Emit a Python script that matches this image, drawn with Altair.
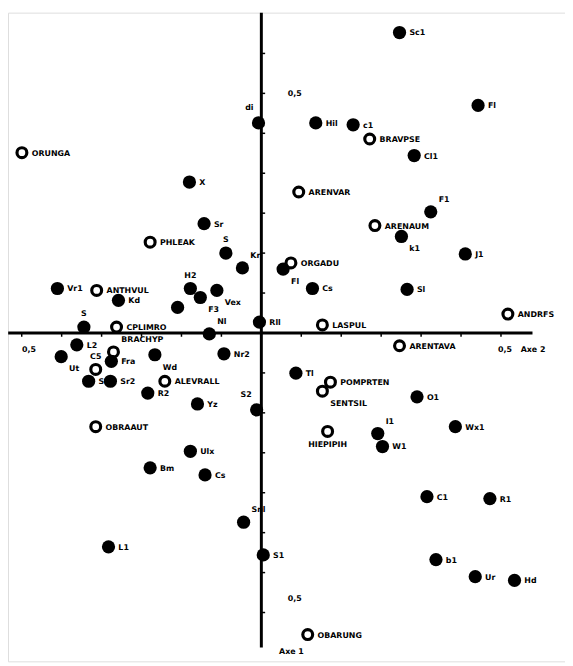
import altair as alt
import pandas as pd
import numpy as np

# ---- data (axis units, origin at the cross) ----
labels = ["Sc1", "Fl", "Hil", "c1", "BRAVPSE", "Cl1", "di", "ORUNGA", "X", "ARENVAR",
          "F1", "ARENAUM", "k1", "Sr", "PHLEAK", "S", "Kr", "ORGADU", "Fl", "Cs",
          "Sl", "J1", "ANDRFS", "LASPUL", "ARENTAVA", "Rll", "Vr1", "ANTHVUL", "Kd", "H2",
          "Vex", "F3", "Sin", "Nl", "CPLIMRO", "S", "L2", "Ut", "BRACHYP", "Fra",
          "Wd", "Nr2", "C5", "Sd", "Sr2", "ALEVRALL", "R2", "Yz", "S2", "Tl",
          "POMPRTEN", "SENTSIL", "O1", "OBRAAUT", "HIEPIPIH", "I1", "W1", "Wx1", "Ulx", "Bm",
          "Cs", "C1", "R1", "Snl", "L1", "S1", "b1", "Ur", "Hd", "OBARUNG"]
axe2 = [0.292, 0.458, 0.115, 0.194, 0.229, 0.323, -0.006, -0.506, -0.152, 0.079,
        0.358, 0.240, 0.296, -0.121, -0.235, -0.075, -0.040, 0.0625, 0.046, 0.108,
        0.308, 0.431, 0.521, 0.129, 0.292, -0.004, -0.431, -0.348, -0.302, -0.150,
        -0.094, -0.129, -0.177, -0.110, -0.306, -0.375, -0.390, -0.423, -0.3125, -0.317,
        -0.225, -0.079, -0.350, -0.365, -0.319, -0.204, -0.240, -0.135, -0.010, 0.073,
        0.146, 0.129, 0.329, -0.350, 0.140, 0.246, 0.256, 0.410, -0.150, -0.235,
        -0.119, 0.350, 0.483, -0.0375, -0.323, 0.004, 0.369, 0.452, 0.535, 0.098]
axe1 = [0.635, 0.481, 0.444, 0.440, 0.410, 0.375, 0.444, 0.381, 0.319, 0.298,
        0.256, 0.227, 0.204, 0.231, 0.192, 0.169, 0.1375, 0.148, 0.135, 0.094,
        0.092, 0.167, 0.040, 0.017, -0.027, 0.023, 0.094, 0.090, 0.069, 0.094,
        0.090, 0.075, 0.054, -0.002, 0.0125, 0.0125, -0.025, -0.050, -0.040, -0.060,
        -0.046, -0.044, -0.077, -0.102, -0.102, -0.102, -0.127, -0.150, -0.1625, -0.085,
        -0.104, -0.123, -0.135, -0.198, -0.208, -0.2125, -0.240, -0.198, -0.250, -0.285,
        -0.300, -0.346, -0.350, -0.400, -0.452, -0.469, -0.479, -0.515, -0.523, -0.6375]
kind = ["F", "F", "F", "F", "O", "F", "F", "O", "F", "O",
        "F", "O", "F", "F", "O", "F", "F", "O", "F", "F",
        "F", "F", "O", "O", "O", "F", "F", "O", "F", "F",
        "F", "F", "F", "F", "O", "F", "F", "F", "O", "F",
        "F", "F", "O", "F", "F", "O", "F", "F", "F", "F",
        "O", "O", "F", "O", "O", "F", "F", "F", "F", "F",
        "F", "F", "F", "F", "F", "F", "F", "F", "F", "O"]
labelpos = ["r", "r", "r", "r", "r", "r", "al", "r", "r", "r",
            "ar", "r", "br", "r", "r", "a", "ar", "r", "br", "r",
            "r", "r", "r", "r", "r", "r", "r", "r", "r", "a",
            "br", "br", "n", "ar", "r", "a", "r", "br", "ar", "r",
            "br", "r", "a", "r", "r", "r", "r", "r", "al", "r",
            "r", "br", "r", "r", "b", "ar", "r", "r", "r", "r",
            "r", "r", "r", "ar", "r", "r", "r", "r", "r", "r"]

tick_text = ["0,5", "0,5", "0,5", "0,5", "Axe 2", "Axe 1"]
tick_x = [0.056, -0.506, 0.500, 0.056, 0.548, 0.0375]
tick_y = [0.506, -0.035, -0.035, -0.5625, -0.035, -0.675]

df = pd.DataFrame({"label": labels, "x": axe2, "y": axe1, "kind": kind, "pos": labelpos})
ann = pd.DataFrame({"t": tick_text, "x": tick_x, "y": tick_y})

XD = [-0.5354, 0.6417]
YD = [-0.694, 0.677]
xs = alt.Scale(domain=XD, nice=False, zero=False)
ys = alt.Scale(domain=YD, nice=False, zero=False)
X = lambda f="x": alt.X(f, type="quantitative", scale=xs, axis=None)
Y = lambda f="y": alt.Y(f, type="quantitative", scale=ys, axis=None)

base = alt.Chart(df)

# axes
vline = alt.Chart(pd.DataFrame({"x": [0.0], "y": [-0.665], "y2": [0.677]})).mark_rule(
    color="black", strokeWidth=3).encode(x=X(), y=Y(), y2="y2")
hline = alt.Chart(pd.DataFrame({"y": [0.0], "x": [-0.535], "x2": [0.573]})).mark_rule(
    color="black", strokeWidth=3).encode(x=X(), x2="x2", y=Y())

vt = np.arange(-7, 9) * 0.0844
vt = vt[(vt > -0.66) & (vt < 0.67) & (vt != 0)]
ht = np.arange(-6, 7) * 0.0844
ht = ht[(ht > -0.53) & (ht < 0.57) & (ht != 0)]
vticks = alt.Chart(pd.DataFrame({"y": vt, "x": 0.0, "x2": 0.008})).mark_rule(
    color="black", strokeWidth=1.5).encode(x=X(), x2="x2", y=Y())
hticks = alt.Chart(pd.DataFrame({"x": ht, "y": 0.0, "y2": -0.008})).mark_rule(
    color="black", strokeWidth=1.5).encode(x=X(), y=Y(), y2="y2")

filled = base.transform_filter(alt.datum.kind == "F").mark_circle(
    size=180, color="black", opacity=1).encode(x=X(), y=Y())
opened = base.transform_filter(alt.datum.kind == "O").mark_point(
    shape="circle", filled=False, size=100, stroke="black", strokeWidth=3.2, opacity=1).encode(x=X(), y=Y())

offs = {"r": (10, 1, "left"), "a": (0, -13, "center"), "al": (-5, -15, "right"),
        "ar": (8, -12, "left"), "br": (8, 13, "left"), "b": (0, 14, "center")}
texts = []
for p, (dx, dy, al) in offs.items():
    texts.append(base.transform_filter(alt.datum.pos == p).mark_text(
        dx=dx, dy=dy, align=al, baseline="middle", font="DejaVu Sans", fontSize=8,
        fontWeight="bold", color="black").encode(x=X(), y=Y(), text="label"))

anno = alt.Chart(ann).mark_text(align="left", baseline="middle", font="DejaVu Sans",
                                fontSize=8, fontWeight="bold", color="black").encode(
    x=X(), y=Y(), text="t")

chart = alt.layer(vline, hline, vticks, hticks, filled, opened, *texts, anno).properties(
    width=565, height=658, padding=0,
    autosize=alt.AutoSizeParams(type="none")
).configure_view(stroke=None).configure(background="white")

chart.save("out.html", embed_options={"renderer": "svg", "actions": False})
